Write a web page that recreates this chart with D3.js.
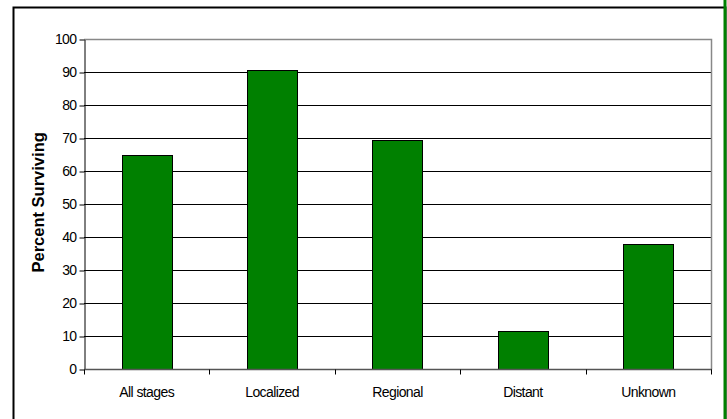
<!DOCTYPE html>
<html>
<head>
<meta charset="utf-8">
<script src="https://cdn.jsdelivr.net/npm/d3@7"></script>
<style>
  body { margin: 0; background: #fff; }
  text { font-family: "Liberation Sans", Arial, sans-serif; }
</style>
</head>
<body>
<div id="chart"></div>
<script>
// data
const stages = ["All stages", "Localized", "Regional", "Distant", "Unknown"];
const surviving = [65, 90.5, 69.5, 11.5, 38];
const yTicks = [0, 10, 20, 30, 40, 50, 60, 70, 80, 90, 100];

const width = 727, height = 419;
const margin = {left: 84, right: 15, top: 39, bottom: 50};

const svg = d3.select("#chart").append("svg")
    .attr("width", width)
    .attr("height", height);

// outer frame (bottom runs past the picture)
svg.append("rect")
    .attr("x", 13.5).attr("y", 7.5)
    .attr("width", 712).attr("height", 430)
    .style("fill", "#fff")
    .style("stroke", "#000")
    .style("stroke-width", 2);

svg.append("line")
    .attr("x1", 725).attr("x2", 725)
    .attr("y1", 0).attr("y2", height)
    .style("stroke", "#008000")
    .style("stroke-width", 3);

let x = d3.scaleBand()
    .domain(stages)
    .range([margin.left, width - margin.right - 1])
    .paddingInner(0.6)
    .paddingOuter(0.3);

let band = d3.scaleBand()
    .domain(stages)
    .range([margin.left, width - margin.right - 1]);

let y = d3.scaleLinear()
    .domain([0, 100])
    .range([height - margin.bottom, margin.top]);

// gridlines
svg.selectAll(".grid").data(yTicks.filter(d => d > 0 && d < 100)).enter().append("line")
    .attr("class", "grid")
    .attr("x1", margin.left).attr("x2", width - margin.right - 1)
    .attr("y1", d => Math.round(y(d)) + 0.5).attr("y2", d => Math.round(y(d)) + 0.5)
    .style("stroke", "#000")
    .style("stroke-width", 1);

// plot border top/right in grey
svg.append("path")
    .attr("d", "M" + margin.left + "," + (y(100) + 0.5) + "H" + (width - margin.right - 0.5) + "V" + (y(0) + 0.5))
    .style("fill", "none")
    .style("stroke", "#888")
    .style("stroke-width", 1.5);

// bars
svg.selectAll(".bar").data(surviving).enter().append("rect")
    .attr("class", "bar")
    .attr("x", (d, i) => Math.round(x(stages[i])) + 0.5)
    .attr("y", d => Math.round(y(d)) + 0.5)
    .attr("width", Math.round(x.bandwidth()))
    .attr("height", d => Math.round(y(0)) - Math.round(y(d)))
    .style("fill", "#008000")
    .style("stroke", "#000")
    .style("stroke-width", 1);

// y axis
let yAxis = svg.append("g")
    .attr("transform", "translate(" + (margin.left + 0.5) + ",0.5)")
    .call(d3.axisLeft(y).tickValues(yTicks).tickSize(5).tickSizeOuter(0));
yAxis.select(".domain").style("stroke", "#000");
yAxis.selectAll(".tick line").style("stroke", "#000");
yAxis.selectAll("text")
    .attr("x", -8)
    .style("font-size", "14px")
    .style("letter-spacing", "-0.6px")
    .style("fill", "#000");

// x axis with ticks on category boundaries
let xAxisG = svg.append("g")
    .attr("transform", "translate(0," + (y(0) + 0.5) + ")");
xAxisG.append("line")
    .attr("x1", margin.left).attr("x2", width - margin.right)
    .style("stroke", "#555").style("stroke-width", 1.5);
let bounds = stages.map(s => band(s)).concat([band(stages[stages.length - 1]) + band.bandwidth()]);
xAxisG.selectAll(".xt").data(bounds).enter().append("line")
    .attr("x1", d => Math.round(d) + 0.5).attr("x2", d => Math.round(d) + 0.5)
    .attr("y1", 0).attr("y2", 5)
    .style("stroke", "#000");
xAxisG.selectAll(".xl").data(stages).enter().append("text")
    .attr("x", d => band(d) + band.bandwidth() / 2)
    .attr("y", 27.5)
    .attr("text-anchor", "middle")
    .style("font-size", "14px")
    .style("letter-spacing", "-0.6px")
    .text(d => d);

// y label
svg.append("text")
    .attr("transform", "translate(44," + y(50.5) + ") rotate(-90)")
    .attr("text-anchor", "middle")
    .style("font-size", "16.5px")
    .style("font-weight", "bold")
    .text("Percent Surviving");
</script>
</body>
</html>
